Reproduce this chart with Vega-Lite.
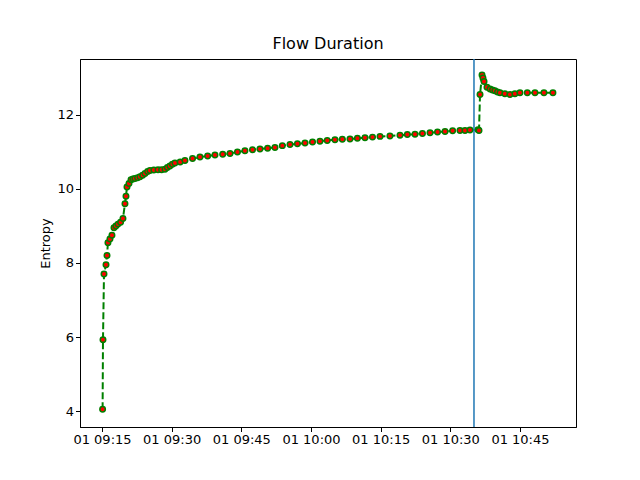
{"$schema":"https://vega.github.io/schema/vega-lite/v6.json","width":496,"height":368,"autosize":{"type":"none"},"padding":{"left":80,"top":59,"right":64,"bottom":53},"config":{"font":"DejaVu Sans","view":{"stroke":"black","strokeWidth":1},"axis":{"grid":false,"domainColor":"black","tickColor":"black","labelColor":"black","labelFontSize":13,"titleFontSize":13,"titleFontWeight":"normal","labelFont":"DejaVu Sans","titleFont":"DejaVu Sans","tickSize":4.5}},"title":{"text":"Flow Duration","fontSize":16,"fontWeight":"normal","font":"DejaVu Sans","offset":6},
"layer":[
{"data":{"values":[
{"t":"2021-01-01T09:15:08","v":4.05},{"t":"2021-01-01T09:15:13","v":5.93},{"t":"2021-01-01T09:15:26","v":7.7},{"t":"2021-01-01T09:15:52","v":7.95},{"t":"2021-01-01T09:16:05","v":8.2},{"t":"2021-01-01T09:16:17","v":8.55},{"t":"2021-01-01T09:16:43","v":8.65},{"t":"2021-01-01T09:17:09","v":8.75},{"t":"2021-01-01T09:17:35","v":8.95},{"t":"2021-01-01T09:18:00","v":9.0},{"t":"2021-01-01T09:18:27","v":9.05},{"t":"2021-01-01T09:19:00","v":9.1},{"t":"2021-01-01T09:19:31","v":9.2},{"t":"2021-01-01T09:19:57","v":9.6},{"t":"2021-01-01T09:20:10","v":9.8},{"t":"2021-01-01T09:20:23","v":10.05},{"t":"2021-01-01T09:20:49","v":10.15},{"t":"2021-01-01T09:21:15","v":10.25},{"t":"2021-01-01T09:21:40","v":10.27},{"t":"2021-01-01T09:22:06","v":10.28},{"t":"2021-01-01T09:22:40","v":10.3},{"t":"2021-01-01T09:23:11","v":10.33},{"t":"2021-01-01T09:23:45","v":10.37},{"t":"2021-01-01T09:24:16","v":10.42},{"t":"2021-01-01T09:24:50","v":10.47},{"t":"2021-01-01T09:25:20","v":10.5},{"t":"2021-01-01T09:26:10","v":10.51},{"t":"2021-01-01T09:27:04","v":10.52},{"t":"2021-01-01T09:27:50","v":10.52},{"t":"2021-01-01T09:28:34","v":10.53},{"t":"2021-01-01T09:29:05","v":10.58},{"t":"2021-01-01T09:29:38","v":10.62},{"t":"2021-01-01T09:30:10","v":10.67},{"t":"2021-01-01T09:30:43","v":10.7},{"t":"2021-01-01T09:31:50","v":10.73},{"t":"2021-01-01T09:32:52","v":10.77},{"t":"2021-01-01T09:34:30","v":10.82},{"t":"2021-01-01T09:36:06","v":10.86},{"t":"2021-01-01T09:37:45","v":10.89},{"t":"2021-01-01T09:39:20","v":10.92},{"t":"2021-01-01T09:41:00","v":10.94},{"t":"2021-01-01T09:42:34","v":10.96},{"t":"2021-01-01T09:44:10","v":11.0},{"t":"2021-01-01T09:45:47","v":11.03},{"t":"2021-01-01T09:47:25","v":11.06},{"t":"2021-01-01T09:49:01","v":11.08},{"t":"2021-01-01T09:50:40","v":11.1},{"t":"2021-01-01T09:52:15","v":11.12},{"t":"2021-01-01T09:53:50","v":11.17},{"t":"2021-01-01T09:55:29","v":11.2},{"t":"2021-01-01T09:57:05","v":11.22},{"t":"2021-01-01T09:58:43","v":11.24},{"t":"2021-01-01T10:00:20","v":11.27},{"t":"2021-01-01T10:01:56","v":11.29},{"t":"2021-01-01T10:03:30","v":11.31},{"t":"2021-01-01T10:05:10","v":11.33},{"t":"2021-01-01T10:06:45","v":11.34},{"t":"2021-01-01T10:08:24","v":11.35},{"t":"2021-01-01T10:10:00","v":11.37},{"t":"2021-01-01T10:11:38","v":11.38},{"t":"2021-01-01T10:13:15","v":11.4},{"t":"2021-01-01T10:14:52","v":11.42},{"t":"2021-01-01T10:17:00","v":11.43},{"t":"2021-01-01T10:19:10","v":11.45},{"t":"2021-01-01T10:20:45","v":11.47},{"t":"2021-01-01T10:22:24","v":11.48},{"t":"2021-01-01T10:24:00","v":11.5},{"t":"2021-01-01T10:25:38","v":11.52},{"t":"2021-01-01T10:27:15","v":11.54},{"t":"2021-01-01T10:28:52","v":11.55},{"t":"2021-01-01T10:30:30","v":11.57},{"t":"2021-01-01T10:32:05","v":11.58},{"t":"2021-01-01T10:33:10","v":11.58},{"t":"2021-01-01T10:34:14","v":11.59},{"t":"2021-01-01T10:35:58","v":11.6},{"t":"2021-01-01T10:36:11","v":11.58},{"t":"2021-01-01T10:36:24","v":12.55},{"t":"2021-01-01T10:36:50","v":13.08},{"t":"2021-01-01T10:37:02","v":13.0},{"t":"2021-01-01T10:37:16","v":12.9},{"t":"2021-01-01T10:37:54","v":12.75},{"t":"2021-01-01T10:38:33","v":12.7},{"t":"2021-01-01T10:39:05","v":12.67},{"t":"2021-01-01T10:39:36","v":12.65},{"t":"2021-01-01T10:40:10","v":12.62},{"t":"2021-01-01T10:40:42","v":12.6},{"t":"2021-01-01T10:41:45","v":12.57},{"t":"2021-01-01T10:42:51","v":12.55},{"t":"2021-01-01T10:43:55","v":12.57},{"t":"2021-01-01T10:45:00","v":12.6},{"t":"2021-01-01T10:46:35","v":12.6},{"t":"2021-01-01T10:48:14","v":12.6},{"t":"2021-01-01T10:50:10","v":12.6},{"t":"2021-01-01T10:52:06","v":12.6}]},
"encoding":{"x":{"field":"t","type":"temporal","title":null,"scale":{"domain":["2021-01-01T09:10:16","2021-01-01T10:57:04"]},"axis":{"format":"%d %H:%M","values":["2021-01-01T09:15:00","2021-01-01T09:30:00","2021-01-01T09:45:00","2021-01-01T10:00:00","2021-01-01T10:15:00","2021-01-01T10:30:00","2021-01-01T10:45:00"]}},"y":{"field":"v","type":"quantitative","title":"Entropy","scale":{"domain":[3.57,13.51],"nice":false,"zero":false},"axis":{"values":[4,6,8,10,12]}}},
"layer":[
{"mark":{"type":"line","color":"green","strokeWidth":2,"strokeDash":[7,3]}},
{"mark":{"type":"point","shape":"circle","filled":true,"fill":"red","stroke":"green","strokeWidth":1.5,"size":30,"opacity":1}}
]},
{"data":{"values":[{"t":"2021-01-01T10:35:06"}]},"mark":{"type":"rule","color":"#1f77b4","strokeWidth":1.5},"encoding":{"x":{"field":"t","type":"temporal"}}}
]}
